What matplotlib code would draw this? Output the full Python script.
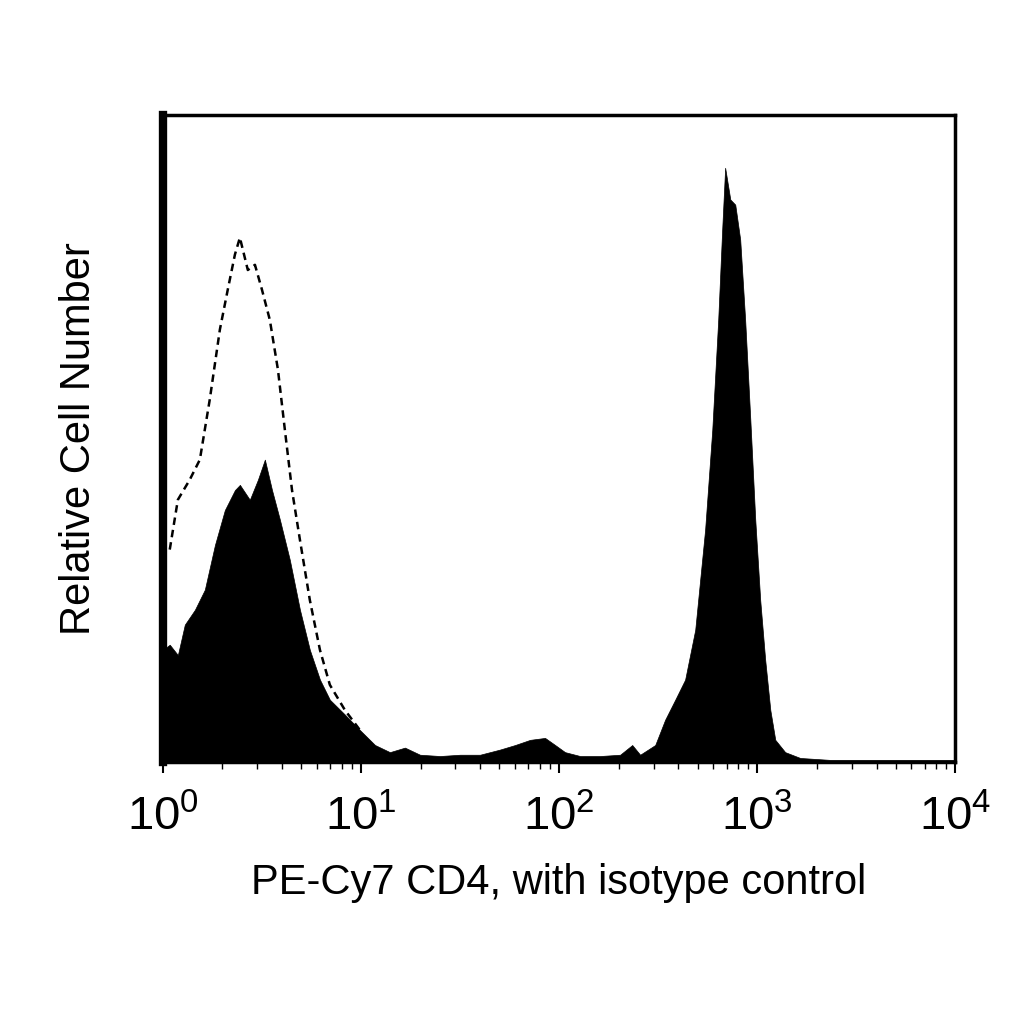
import numpy as np
import matplotlib.pyplot as plt
from matplotlib.ticker import LogLocator, NullFormatter

plt.rcParams['font.family'] = ['Liberation Sans', 'DejaVu Sans']

# stained sample (filled), log10 fluorescence vs relative count
cd4_log = [0.00, 0.035, 0.076, 0.111, 0.162, 0.212, 0.263, 0.313, 0.364, 0.389, 0.439, 0.480,
           0.515, 0.551, 0.591, 0.641, 0.692, 0.742, 0.793, 0.843, 0.919, 0.995, 1.071, 1.146,
           1.222, 1.298, 1.399, 1.500, 1.601, 1.702, 1.778, 1.854, 1.929, 1.980, 2.030, 2.106,
           2.207, 2.308, 2.369, 2.409, 2.485, 2.535, 2.586, 2.636, 2.687, 2.737, 2.773, 2.803,
           2.823, 2.838, 2.864, 2.889, 2.914, 2.939, 2.965, 2.990, 3.015, 3.040, 3.066, 3.091,
           3.141, 3.217, 3.369, 3.722, 4.0]
cd4_count = [17.3, 18.1, 16.5, 21.2, 23.5, 26.6, 33.5, 38.9, 42.0, 42.8, 40.5, 43.6,
             46.7, 42.0, 37.4, 31.2, 23.5, 17.3, 12.7, 9.6, 7.3, 4.9, 2.6, 1.5,
             2.2, 1.1, 0.9, 1.1, 1.1, 1.9, 2.6, 3.4, 3.7, 2.6, 1.5, 0.9,
             0.9, 1.1, 2.6, 1.1, 2.6, 6.5, 9.6, 12.7, 20.4, 35.9, 51.3, 68.3,
             82.2, 91.8, 86.9, 86.1, 80.7, 68.3, 52.9, 37.4, 25.0, 15.8, 8.0, 3.4,
             1.5, 0.6, 0.3, 0.3, 0.3]

# isotype control (dashed)
iso_log = [0.035, 0.076, 0.136, 0.187, 0.237, 0.288, 0.328, 0.364, 0.389, 0.429, 0.465,
           0.500, 0.540, 0.581, 0.616, 0.652, 0.692, 0.742, 0.793, 0.843, 0.919, 0.995]
iso_count = [32.8, 40.5, 43.6, 46.7, 56.0, 66.8, 73.0, 78.4, 81.0, 76.0, 76.8,
             73.0, 68.3, 60.6, 51.3, 42.0, 34.3, 25.0, 17.3, 11.9, 8.0, 4.9]

fig = plt.figure(figsize=(10.24, 10.24), dpi=100)
ax = fig.add_axes([0.159, 0.256, 0.774, 0.632])

x = 10 ** np.array(cd4_log)
ax.fill_between(x, cd4_count, 0, color='black', lw=0.5)
ax.plot(10 ** np.array(iso_log), iso_count, color='black', ls=(0, (3, 2)), lw=1.8)

ax.set_xscale('log')
ax.set_xlim(1, 1e4)
ax.set_ylim(0, 100)
ax.set_yticks([])
ax.xaxis.set_major_locator(LogLocator(base=10, numticks=10))
ax.xaxis.set_minor_locator(LogLocator(base=10, subs=np.arange(2, 10), numticks=50))
ax.xaxis.set_minor_formatter(NullFormatter())
ax.tick_params(axis='x', which='major', length=8, width=1.5, labelsize=34, pad=16)
ax.tick_params(axis='x', which='minor', length=5, width=1)
for s in ['top', 'right', 'bottom']:
    ax.spines[s].set_linewidth(2.5)
ax.spines['left'].set_linewidth(6)

ax.set_xlabel('PE-Cy7 CD4, with isotype control', fontsize=30, labelpad=16)
ax.set_ylabel('Relative Cell Number', fontsize=30, labelpad=46)

fig.savefig('out.png', dpi=100)
